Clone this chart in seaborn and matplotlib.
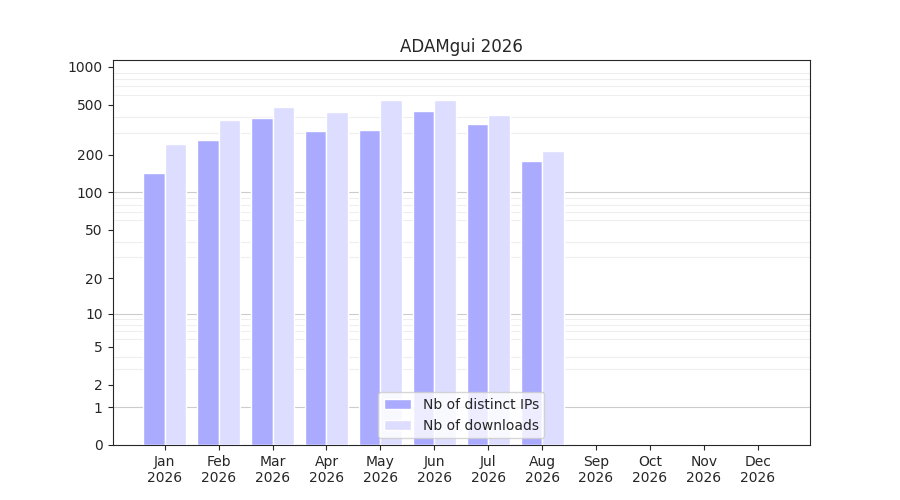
import numpy as np
import pandas as pd
import matplotlib
matplotlib.use("Agg")
import matplotlib.pyplot as plt
import seaborn as sns

months = ["Jan\n2026", "Feb\n2026", "Mar\n2026", "Apr\n2026", "May\n2026", "Jun\n2026",
          "Jul\n2026", "Aug\n2026", "Sep\n2026", "Oct\n2026", "Nov\n2026", "Dec\n2026"]
distinct_ips = [143, 262, 393, 310, 315, 447, 352, 178, 0, 0, 0, 0]
downloads = [244, 378, 481, 438, 546, 546, 415, 214, 0, 0, 0, 0]

df = pd.DataFrame({
    "month": months * 2,
    "value": distinct_ips + downloads,
    "serie": ["Nb of distinct IPs"] * 12 + ["Nb of downloads"] * 12,
})

sns.set_style("ticks")
plt.rcParams["font.family"] = ["DejaVu Sans"]
fig, ax = plt.subplots(figsize=(9, 5), dpi=100)
fig.subplots_adjust(left=0.125, right=0.9, top=0.88, bottom=0.11)

ax.set_yscale("function", functions=(lambda v: np.log10(1 + np.maximum(v, 0)),
                                     lambda y: 10 ** y - 1))
sns.barplot(data=df, x="month", y="value", hue="serie", ax=ax,
            palette=["#aaaaff", "#ddddff"], saturation=1, width=0.8, zorder=3)

ax.set_ylim(0, 1136)
ax.set_xlim(-0.97, 11.97)
ticks = [0, 1, 2, 5, 10, 20, 50, 100, 200, 500, 1000]
ax.set_yticks(ticks)
ax.set_yticklabels([str(t) for t in ticks])
minor = [m * d for d in (1, 10, 100) for m in range(2, 10)] + [1000]
ax.set_yticks(minor, minor=True)
ax.tick_params(axis="y", which="minor", length=0)
ax.grid(axis="y", which="minor", color="#eeeeee", lw=0.8, zorder=0)
for v in (1, 10, 100):
    ax.axhline(v, color="#cccccc", lw=0.8, zorder=1)
ax.set_xlabel("")
ax.set_ylabel("")
ax.set_title("ADAMgui 2026")
ax.legend(loc="lower center", title=None)
fig.savefig("out.png", dpi=100)
